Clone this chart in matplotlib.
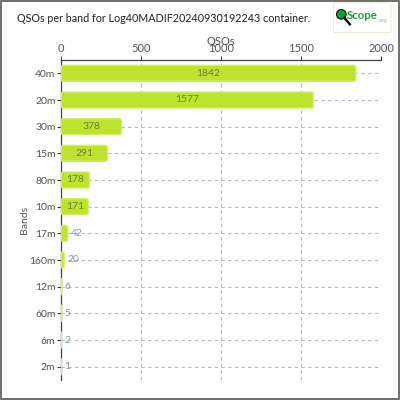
import matplotlib
matplotlib.use("Agg")
import matplotlib.pyplot as plt
from matplotlib.patches import FancyBboxPatch, Rectangle, Circle
from matplotlib.lines import Line2D

bands = ["40m", "20m", "30m", "15m", "80m", "10m", "17m", "160m", "12m", "60m", "6m", "2m"]
qsos = [1842, 1577, 378, 291, 178, 171, 42, 20, 6, 5, 2, 1]
xticks = [0, 500, 1000, 1500, 2000]
title = "QSOs per band for Log40MADIF20240930192243 container."

FONT = "Lato"
BAR = "#bee32e"
EDGE = "#d6ef6a"

fig = plt.figure(figsize=(4, 4), dpi=100)
fig.patch.set_facecolor("white")
fig.patches.append(Rectangle((0.002, 0.002), 0.996, 0.996, transform=fig.transFigure,
                             fill=False, edgecolor="#555555", linewidth=1.2))

ax = fig.add_axes([0.1525, 0.05, 0.8, 0.8])
ax.set_xlim(0, 2000)
ax.set_ylim(len(bands) - 0.5, -0.5)

px_x = 2000 / 320.0
px_y = 12 / 320.0
aspect = px_y / px_x
bh = 0.6
for i, (b, v) in enumerate(zip(bands, qsos)):
    r = min(2.2 * px_x, v / 2.0)
    p = FancyBboxPatch((0, i - bh / 2), v, bh,
                       boxstyle=f"round,pad=0,rounding_size={r}",
                       mutation_aspect=aspect, facecolor=BAR, edgecolor=EDGE,
                       linewidth=1.0, zorder=3)
    ax.add_patch(p)
    if v >= 150:
        ax.text(v / 2, i, str(v), ha="center", va="center", fontsize=7.5,
                color="#6f7f3c", family=FONT, zorder=4)
    else:
        ax.text(v + 3 * px_x, i, str(v), ha="left", va="center", fontsize=7.5,
                color="#7a9aa8", family=FONT, zorder=4)

ax.set_yticks(range(len(bands)))
ax.set_yticklabels(bands, family=FONT, fontsize=7.5, color="#555555")
ax.xaxis.tick_top()
ax.xaxis.set_label_position("top")
ax.set_xticks(xticks)
ax.set_xticklabels([str(t) for t in xticks], family=FONT, fontsize=8, color="#555555")
ax.set_xlabel("QSOs", family=FONT, fontsize=8, color="#555555", labelpad=-1)
ax.set_ylabel("Bands", family=FONT, fontsize=7.5, color="#555555", labelpad=0)
ax.tick_params(axis="both", length=3, width=0.8, color="#444444", pad=1)

for s in ["right", "bottom"]:
    ax.spines[s].set_visible(False)
for s in ["left", "top"]:
    ax.spines[s].set_color("#444444")
    ax.spines[s].set_linewidth(0.9)

ax.grid(True, linestyle=(0, (3, 3)), color="#bbbbbb", linewidth=0.8, zorder=0)
ax.set_axisbelow(True)

fig.text(0.042, 0.955, title, family=FONT, fontsize=7.75, color="#222222", va="center")

# logo
lax = fig.add_axes([0.832, 0.917, 0.147, 0.077])
lax.set_xlim(0, 59)
lax.set_ylim(0, 31)
lax.axis("off")
lax.add_patch(FancyBboxPatch((0.5, 0.5), 58, 30, boxstyle="round,pad=0,rounding_size=3",
                             facecolor="white", edgecolor="#e6efc0", linewidth=0.6))
lax.add_patch(Circle((8.5, 19), 4.8, facecolor="#1a9a3a", edgecolor="#111111", linewidth=0.8))
lax.add_line(Line2D([11.8, 17], [15.2, 9], color="#111111", linewidth=1.8))
lax.text(14.5, 18, "Scope", family=FONT, fontsize=8.2, fontweight="bold", color="#1a9a3a",
         va="center", ha="left")
lax.text(46.5, 13, ".org", family=FONT, fontsize=3.8, color="#7fc07f", va="center", ha="left")

fig.savefig("out.png", dpi=100)
